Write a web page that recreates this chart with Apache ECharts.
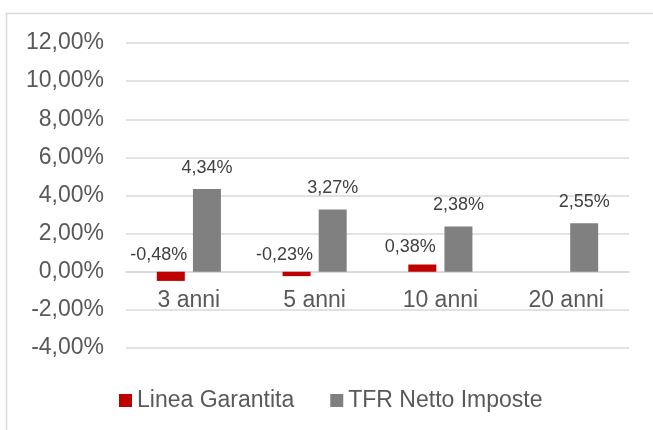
<!DOCTYPE html>
<html>
<head>
<meta charset="utf-8">
<script src="https://cdn.jsdelivr.net/npm/echarts@6/dist/echarts.min.js"></script>
<style>
  html, body { margin: 0; padding: 0; background: #fff; }
  #chart { width: 653px; height: 430px; }
</style>
</head>
<body>
<div id="chart"></div>
<script>
const categories = ['3 anni', '5 anni', '10 anni', '20 anni']
const lineaGarantita = [-0.48, -0.23, 0.38, null]
const tfrNetto = [4.34, 3.27, 2.38, 2.55]
const yMin = -4
const yMax = 12
const yStep = 2

const fontFamily = 'Liberation Sans, Arial, sans-serif'
const textColor = '#595959'
const lineColor = '#d9d9d9'

const gridTop = 43
const gridBottom = 82
const gridHeight = 430 - gridTop - gridBottom
// l'asse delle categorie sta sullo zero, come in Excel
const zeroOffset = -gridHeight * (0 - yMin) / (yMax - yMin)

// numeri all'italiana: virgola decimale
function pct(v) {
  return v.toFixed(2).replace('.', ',') + '%'
}

const chart = echarts.init(document.getElementById('chart'))

chart.setOption({
  animation: false,
  graphic: [{
    type: 'rect',
    shape: { x: 6.5, y: 13.5, width: 800, height: 600 },
    style: { fill: 'none', stroke: lineColor, lineWidth: 1.5 },
    silent: true
  }],
  grid: {
    left: 126,
    right: 24,
    top: gridTop,
    bottom: gridBottom
  },
  legend: {
    left: 114,
    top: 384,
    icon: 'rect',
    itemWidth: 13,
    itemHeight: 13,
    itemGap: 36,
    textStyle: { fontFamily, fontSize: 23, color: textColor },
    data: ['Linea Garantita', 'TFR Netto Imposte']
  },
  xAxis: {
    type: 'category',
    data: categories,
    offset: zeroOffset,
    axisLine: { onZero: false, lineStyle: { color: lineColor, width: 1.5 } },
    axisTick: { show: false },
    axisLabel: {
      fontFamily,
      fontSize: 23,
      color: textColor,
      margin: 17
    }
  },
  yAxis: {
    type: 'value',
    min: yMin,
    max: yMax,
    interval: yStep,
    axisLine: { show: false },
    axisTick: { show: false },
    splitLine: { lineStyle: { color: lineColor, width: 1.5 } },
    axisLabel: {
      fontFamily,
      fontSize: 23,
      color: textColor,
      margin: 22,
      formatter: v => pct(v)
    }
  },
  series: [{
    name: 'Linea Garantita',
    type: 'bar',
    barWidth: 28,
    barGap: '29%',
    itemStyle: { color: '#c00000' },
    label: {
      show: true,
      position: 'top',
      distance: 8,
      offset: [-12, 0],
      fontFamily,
      fontSize: 18,
      color: '#404040',
      formatter: p => p.value == null ? '' : pct(p.value)
    },
    data: lineaGarantita
  }, {
    name: 'TFR Netto Imposte',
    type: 'bar',
    barWidth: 28,
    barGap: '29%',
    itemStyle: { color: '#808080' },
    label: {
      show: true,
      position: 'top',
      distance: 12,
      fontFamily,
      fontSize: 18,
      color: '#404040',
      formatter: p => pct(p.value)
    },
    data: tfrNetto
  }]
})
</script>
</body>
</html>
